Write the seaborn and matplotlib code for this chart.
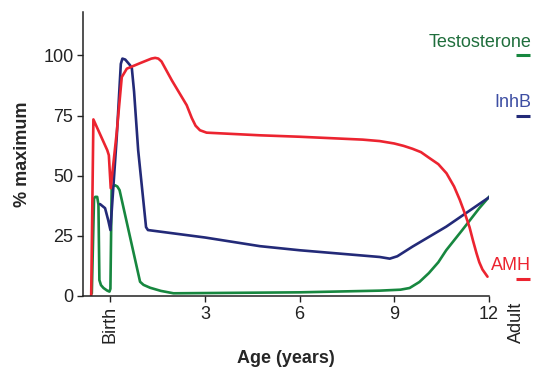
import matplotlib
matplotlib.use("Agg")
import matplotlib.pyplot as plt
import seaborn as sns
import pandas as pd

# ---- data ----
amh_x = [-0.61, -0.54, -0.10, -0.05, 0.01, 0.20, 0.36, 0.52, 0.94, 1.30, 1.42, 1.52, 1.62, 1.95,
         2.42, 2.58, 2.70, 2.84, 3.05, 4.74, 6.0, 8.0, 8.54, 9.0, 9.3, 9.58, 9.85,
         10.1, 10.4, 10.66, 10.9, 11.08, 11.25, 11.39, 11.5, 11.61, 11.7, 11.8, 11.96]
amh_y = [0, 73.4, 60.6, 58.5, 44.8, 68, 91, 94.5, 96.8, 98.7, 99, 98.7, 97.5, 89.6,
         79.3, 74, 70.8, 68.9, 67.9, 66.8, 66.2, 65, 64.4, 63.4, 62.4, 61.2, 59.8,
         57.5, 54.8, 51, 45.5, 40, 34, 28.6, 23, 17.8, 14, 11, 8]

inhb_x = [-0.33, -0.17, -0.07, 0.0, 0.2, 0.33, 0.38, 0.47, 0.62, 0.68, 0.75, 0.88,
          1.13, 1.19, 3.0, 4.74, 6.0, 8.54, 8.86, 9.1, 9.58, 10.65, 12.03]
inhb_y = [38.2, 36.5, 31.5, 27.4, 66, 96.5, 98.7, 98.3, 96, 94.6, 85, 60.6,
          28.6, 27.4, 24.3, 20.7, 19, 16.2, 15.5, 16.5, 20.5, 28.8, 41.2]

testo_x = [-0.59, -0.52, -0.48, -0.42, -0.38, -0.35, -0.3, -0.22, -0.1, -0.03, 0.0,
           0.04, 0.15, 0.22, 0.29, 0.94, 1.05, 1.26, 1.6, 2.0, 6.0, 8.54, 9.2, 9.49,
           9.8, 10.1, 10.4, 10.65, 11.16, 11.7, 12.03]
testo_y = [1, 40.5, 41.2, 41.2, 38, 6.6, 4.5, 3.3, 2.2, 1.8, 3,
           45.4, 46, 45.5, 44, 5.9, 4.6, 3.4, 2.1, 1.1, 1.5, 2.2, 2.6, 3.3,
           5.8, 9.5, 14, 19, 27.4, 36.5, 41.5]

series_names = ["Testosterone", "InhB", "AMH"]
adult_values = [100, 75, 7]
colors = {"Testosterone": "#17873f", "InhB": "#232a78", "AMH": "#ec2430"}
text_colors = {"Testosterone": "#1f6e3c", "InhB": "#3d4ea3", "AMH": "#ec2430"}
label_y = [103.4, 78.6, 10.8]

x_ticks = [0, 3, 6, 9, 12]
x_ticklabels = ["Birth", "3", "6", "9", "12"]
y_ticks = [0, 25, 50, 75, 100]

# ---- build table ----
frames = []
for name, xs, ys in [("AMH", amh_x, amh_y), ("InhB", inhb_x, inhb_y),
                     ("Testosterone", testo_x, testo_y)]:
    frames.append(pd.DataFrame({"age": xs, "pct": ys, "hormone": name}))
df = pd.concat(frames, ignore_index=True)

sns.set_theme(style="ticks")
plt.rcParams["font.family"] = ["Liberation Sans", "DejaVu Sans"]

fig = plt.figure(figsize=(5.33, 3.69), dpi=100)
ax = fig.add_axes([0.156, 0.198, 0.761, 0.769])

for name in ["Testosterone", "InhB", "AMH"]:
    sub = df[df["hormone"] == name]
    sns.lineplot(data=sub, x="age", y="pct", sort=False, estimator=None,
                 color=colors[name], linewidth=1.9, ax=ax, legend=False,
                 solid_joinstyle="round", solid_capstyle="round")

ax.set_xlim(-0.865, 12)
ax.set_ylim(0, 118)

# adult markers and labels
for name, val, ly in zip(series_names, adult_values, label_y):
    ax.plot([12.85, 13.3], [val, val], color=colors[name], linewidth=2.2,
            clip_on=False, solid_capstyle="butt")
    ax.text(13.34, ly, name, color=text_colors[name], fontsize=13,
            ha="right", va="baseline", clip_on=False)

ax.text(12.87, -2.5, "Adult", rotation=90, ha="center", va="top",
        fontsize=13, clip_on=False, transform=ax.transData, color="#222222")

ax.set_xticks(x_ticks)
ax.set_xticklabels(x_ticklabels, fontsize=13)
for lab in ax.get_xticklabels():
    if lab.get_text() == "Birth":
        lab.set_rotation(90)
        lab.set_va("top")
ax.set_yticks(y_ticks)
ax.set_yticklabels([str(v) for v in y_ticks], fontsize=13)
ax.tick_params(axis="both", direction="out", length=4, width=1.0,
               color="#222222", labelcolor="#222222", pad=3)

for s in ["top", "right"]:
    ax.spines[s].set_visible(False)
for s in ["left", "bottom"]:
    ax.spines[s].set_linewidth(1.1)
    ax.spines[s].set_color("#222222")

ax.set_xlabel("Age (years)", fontsize=13, fontweight="bold", labelpad=5)
ax.set_ylabel("% maximum", fontsize=13, fontweight="bold", labelpad=9)

fig.savefig("out.png", dpi=100)
